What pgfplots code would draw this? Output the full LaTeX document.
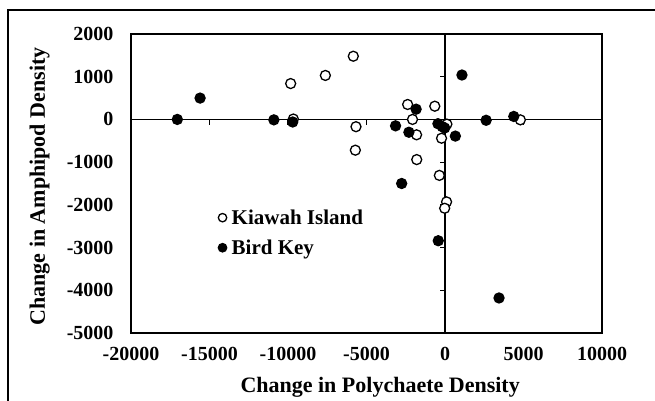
\documentclass[border=0pt]{standalone}
\usepackage{pgfplots}
\pgfplotsset{compat=1.18}
\usepackage{fontspec}
\setmainfont{Liberation Serif}
\begin{document}
\begin{tikzpicture}
\useasboundingbox (0pt,0pt) rectangle (655pt,400pt);
\draw[line width=2pt] (8pt,-5pt) -- (8pt,390pt) -- (660pt,390pt);
\begin{axis}[
  at={(131pt,67pt)}, anchor=south west,
  scale only axis, width=471pt, height=299pt,
  xmin=-20000, xmax=10000, ymin=-5000, ymax=2000,
  scaled x ticks=false, scaled y ticks=false,
  xtick={-20000,-15000,-10000,-5000,0,5000,10000},
  xticklabels={-20000,-15000,-10000,-5000,0,5000,10000},
  ytick={-5000,-4000,-3000,-2000,-1000,0,1000,2000},
  yticklabels={-5000,-4000,-3000,-2000,-1000,0,1000,2000},
  major tick length=0pt,
  axis line style={line width=2pt},
  xticklabel style={font=\fontsize{20}{20}\selectfont\bfseries, yshift=-11pt},
  yticklabel style={font=\fontsize{20}{20}\selectfont\bfseries, xshift=-14pt},
  xlabel={Change in Polychaete Density},
  ylabel={Change in Amphipod Density},
  xlabel style={font=\fontsize{22}{22}\selectfont\bfseries, at={(axis description cs:0.529,-0.2)}, anchor=base},
  ylabel style={font=\fontsize{22}{22}\selectfont\bfseries, at={(axis description cs:-0.1826,0.49)}, anchor=base},
  legend cell align=left,
  legend style={draw=none, fill=none, at={(axis description cs:0.185,0.42)}, anchor=north west,
    font=\fontsize{21}{21}\selectfont\bfseries, row sep=10pt, inner sep=0pt,
    /tikz/column sep=3pt},
  legend image code/.code={\draw[#1,mark size=4.2pt] plot coordinates {(0pt,0pt)};},
  clip=false,
]
\draw[line width=1.8pt] (axis cs:0,-5000) -- (axis cs:0,2000);
\draw[line width=1.8pt] (axis cs:-20000,0) -- (axis cs:10000,0);
\pgfplotsinvokeforeach{-4000,-3000,-2000,-1000,1000}{
  \draw[line width=1.2pt] (axis cs:0,#1) -- (axis cs:-320,#1);
}
\pgfplotsinvokeforeach{-15000,-10000,-5000,5000}{
  \draw[line width=1.2pt] (axis cs:#1,0) -- (axis cs:#1,-120);
}
\addplot[only marks, mark=*, mark size=5pt, mark options={fill=white, draw=black, line width=1.3pt}] coordinates {
(-9830,840) (-7620,1030) (-5840,1480) (-9660,10) (-5670,-170) (-5710,-720)
(-2380,350) (-2070,0) (-1810,-360) (-1800,-940) (-650,310) (-220,-440)
(-360,-1310) (100,-1930) (-20,-2080) (120,-110) (4800,-10)
};
\addlegendentry{Kiawah Island}
\addplot[only marks, mark=*, mark size=5pt, mark options={fill=black, draw=black, line width=1.3pt}] coordinates {
(-17050,0) (-15600,500) (-10900,-10) (-9700,-60) (-3150,-150) (-2300,-300)
(-1840,240) (-450,-100) (-170,-170) (-20,-200) (660,-390) (1080,1040)
(2620,-20) (4380,70) (-2760,-1500) (-430,-2840) (3440,-4180)
};
\addlegendentry{Bird Key}
\end{axis}
\end{tikzpicture}
\end{document}
